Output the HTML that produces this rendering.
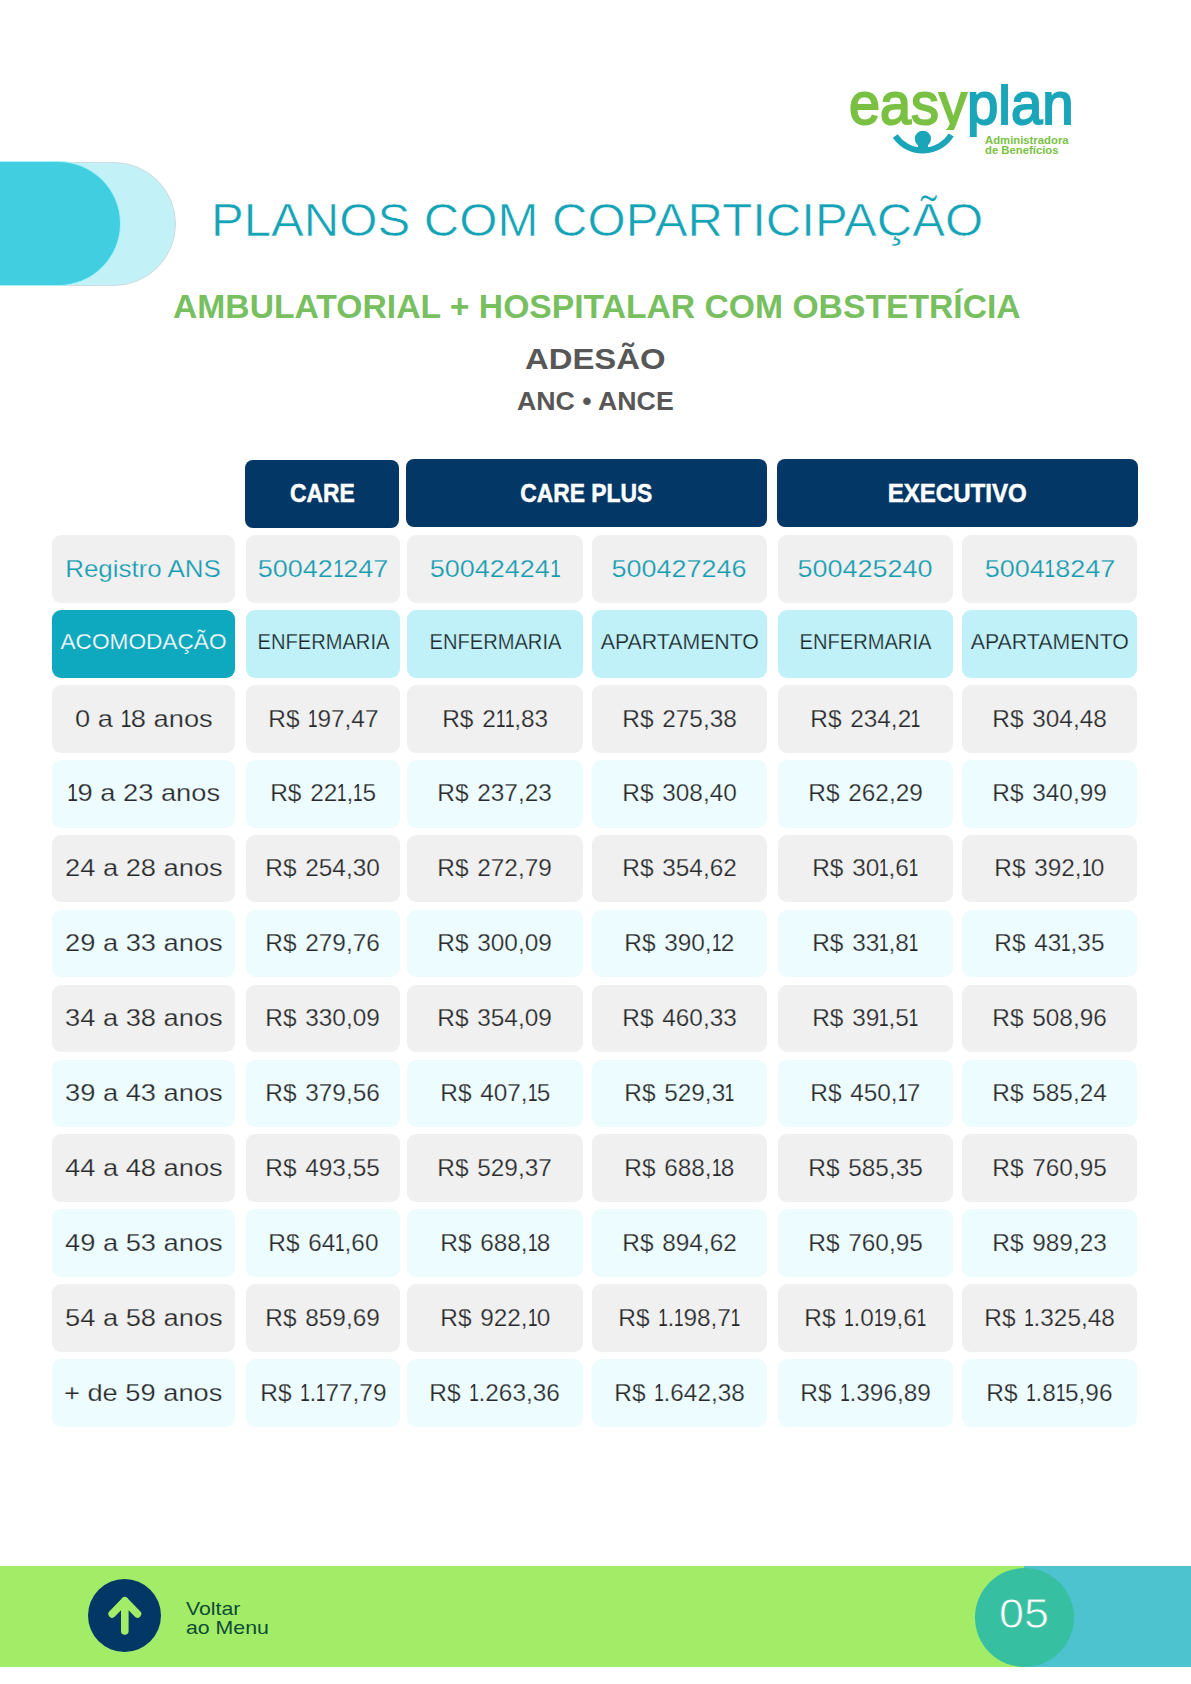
<!DOCTYPE html>
<html lang="pt-BR">
<head>
<meta charset="utf-8">
<title>Planos com Coparticipação</title>
<style>
html,body{margin:0;padding:0;}
body{width:1191px;height:1684px;position:relative;overflow:hidden;background:#ffffff;font-family:"Liberation Sans",Arial,sans-serif;}
.abs{position:absolute;}
.c{position:absolute;box-sizing:border-box;border-radius:9px;display:flex;align-items:center;justify-content:center;white-space:nowrap;}
.c span{display:inline-block;line-height:1;}
.hd{background:#033766;color:#ffffff;font-weight:bold;font-size:25px;border-radius:9px;-webkit-text-stroke:0.5px #ffffff;border-radius:8px;}
.g{background:#f0f0f0;}
.b{background:#edfcfe;}
.reg{color:#159cb0;font-size:24px;}
.reg span{-webkit-text-stroke:0.25px #f0f0f0;}
.aco{background:#0ea8bf;color:#ffffff;font-size:22.5px;}
.aco span{position:relative;top:-1.8px;-webkit-text-stroke:0.25px #0ea8bf;}
.enf{background:#c1f1f8;color:#1c272b;font-size:21.5px;}
.enf span{position:relative;top:-1px;-webkit-text-stroke:0.25px #c1f1f8;}
.dat{color:#27292b;font-size:24.5px;}
.pr span{word-spacing:2px;}
.g.dat span{-webkit-text-stroke:0.25px #f0f0f0;}
.b.dat span{-webkit-text-stroke:0.25px #edfcfe;}
.t{position:absolute;white-space:nowrap;line-height:1;}
.t span{display:inline-block;transform-origin:0 0;}
.c i{font-style:normal;display:inline-block;margin:0 -2.2px;transform:scaleX(0.7);-webkit-text-stroke:0;}
.reg i{margin:0 -2.1px;}
</style>
</head>
<body>
<!-- logo -->
<div class="t" id="easy" style="left:849px;top:74px;height:56px;overflow:hidden;font-size:60px;color:#7ac143;-webkit-text-stroke:2px #7ac143;"><span style="transform:scaleX(0.93)">easy</span></div>
<div class="t" id="plan" style="left:967px;top:74px;font-size:60px;color:#1aa5b8;-webkit-text-stroke:2px #1aa5b8;"><span style="transform:scaleX(0.94)">p<b style="display:inline-block;font-weight:normal;transform:scaleY(0.9);transform-origin:50% 50.8px">l</b>an</span></div>
<svg class="abs" style="left:880px;top:120px" width="90" height="45" viewBox="880 120 90 45">
  <path d="M895.25 136 A 33.5 33.5 0 0 0 951.2 135" fill="none" stroke="#1aa5b8" stroke-width="6" stroke-linecap="butt"/>
  <circle cx="922.9" cy="138.8" r="8.1" fill="#1aa5b8"/>
  <rect x="918" y="141" width="10" height="7" fill="#1aa5b8"/>
</svg>
<div class="t" style="left:985px;top:135.8px;font-size:10.2px;font-weight:bold;color:#7ac143;line-height:9.8px"><span style="transform:scaleX(1.11)">Administradora<br>de Benefícios</span></div>

<!-- left pills -->
<div class="abs" style="left:-70px;top:161.5px;width:246px;height:124px;box-sizing:border-box;border:1px solid #cbdcdf;border-radius:62px;background:#c2f1f7;"></div>
<div class="abs" style="left:-70px;top:162px;width:190px;height:123px;border-radius:62px;background:#40cee0;box-shadow:0 0 0 1px #a6f2f9;"></div>

<!-- titles -->
<div class="t" id="title" style="left:211px;top:197px;font-size:46.5px;color:#17a3b6;-webkit-text-stroke:0.6px #ffffff;"><span style="transform:scaleX(1.056)">PLANOS COM COPARTICIPAÇÃO</span></div>
<div class="t" id="sub" style="left:173px;top:291.4px;font-size:32.7px;font-weight:bold;color:#77bf5f;"><span style="transform:scaleX(1.03)">AMBULATORIAL + HOSPITALAR COM OBSTETRÍCIA</span></div>
<div class="t" id="ades" style="left:525px;top:343.6px;font-size:29.6px;font-weight:bold;color:#575757;"><span style="transform:scaleX(1.11)">ADESÃO</span></div>
<div class="t" id="anc" style="left:517px;top:388.7px;font-size:25.2px;font-weight:bold;color:#575757;"><span style="transform:scaleX(1.06)">ANC • ANCE</span></div>

<!-- table -->
<div class="c hd" style="left:245px;top:460.0px;width:154px;height:67.8px"><span style="transform:scaleX(0.916)">CARE</span></div>
<div class="c hd" style="left:406px;top:459.3px;width:361px;height:67.8px"><span style="transform:scaleX(0.914)">CARE PLUS</span></div>
<div class="c hd" style="left:777px;top:459.3px;width:361px;height:67.8px"><span style="transform:scaleX(0.963)">EXECUTIVO</span></div>
<div class="c g reg" style="left:52px;top:535.0px;width:183px;height:67.5px"><span style="transform:scaleX(1.080)">Registro ANS</span></div>
<div class="c g reg" style="left:246px;top:535.0px;width:154px;height:67.5px"><span style="transform:scaleX(1.125)">50042<i>1</i>247</span></div>
<div class="c g reg" style="left:407px;top:535.0px;width:176px;height:67.5px"><span style="transform:scaleX(1.125)">50042424<i>1</i></span></div>
<div class="c g reg" style="left:592px;top:535.0px;width:175px;height:67.5px"><span style="transform:scaleX(1.125)">500427246</span></div>
<div class="c g reg" style="left:778px;top:535.0px;width:175px;height:67.5px"><span style="transform:scaleX(1.125)">500425240</span></div>
<div class="c g reg" style="left:962px;top:535.0px;width:175px;height:67.5px"><span style="transform:scaleX(1.125)">5004<i>1</i>8247</span></div>
<div class="c aco" style="left:52px;top:610.0px;width:183px;height:67.8px"><span style="transform:scaleX(1.006)">ACOMODAÇÃO</span></div>
<div class="c enf" style="left:246px;top:610.0px;width:154px;height:67.8px"><span style="transform:scaleX(0.935)">ENFERMARIA</span></div>
<div class="c enf" style="left:407px;top:610.0px;width:176px;height:67.8px"><span style="transform:scaleX(0.935)">ENFERMARIA</span></div>
<div class="c enf" style="left:592px;top:610.0px;width:175px;height:67.8px"><span style="transform:scaleX(0.990)">APARTAMENTO</span></div>
<div class="c enf" style="left:778px;top:610.0px;width:175px;height:67.8px"><span style="transform:scaleX(0.935)">ENFERMARIA</span></div>
<div class="c enf" style="left:962px;top:610.0px;width:175px;height:67.8px"><span style="transform:scaleX(0.990)">APARTAMENTO</span></div>
<div class="c g dat" style="left:52px;top:685.0px;width:183px;height:67.7px"><span style="transform:scaleX(1.113)">0 a <i>1</i>8 anos</span></div>
<div class="c g dat pr" style="left:246px;top:685.0px;width:154px;height:67.7px"><span style="transform:scaleX(0.995)">R$ <i>1</i>97,47</span></div>
<div class="c g dat pr" style="left:407px;top:685.0px;width:176px;height:67.7px"><span style="transform:scaleX(0.995)">R$ 2<i>1</i><i>1</i>,83</span></div>
<div class="c g dat pr" style="left:592px;top:685.0px;width:175px;height:67.7px"><span style="transform:scaleX(0.995)">R$ 275,38</span></div>
<div class="c g dat pr" style="left:778px;top:685.0px;width:175px;height:67.7px"><span style="transform:scaleX(0.995)">R$ 234,2<i>1</i></span></div>
<div class="c g dat pr" style="left:962px;top:685.0px;width:175px;height:67.7px"><span style="transform:scaleX(0.995)">R$ 304,48</span></div>
<div class="c b dat" style="left:52px;top:759.9px;width:183px;height:67.7px"><span style="transform:scaleX(1.113)"><i>1</i>9 a 23 anos</span></div>
<div class="c b dat pr" style="left:246px;top:759.9px;width:154px;height:67.7px"><span style="transform:scaleX(0.995)">R$ 22<i>1</i>,<i>1</i>5</span></div>
<div class="c b dat pr" style="left:407px;top:759.9px;width:176px;height:67.7px"><span style="transform:scaleX(0.995)">R$ 237,23</span></div>
<div class="c b dat pr" style="left:592px;top:759.9px;width:175px;height:67.7px"><span style="transform:scaleX(0.995)">R$ 308,40</span></div>
<div class="c b dat pr" style="left:778px;top:759.9px;width:175px;height:67.7px"><span style="transform:scaleX(0.995)">R$ 262,29</span></div>
<div class="c b dat pr" style="left:962px;top:759.9px;width:175px;height:67.7px"><span style="transform:scaleX(0.995)">R$ 340,99</span></div>
<div class="c g dat" style="left:52px;top:834.8px;width:183px;height:67.7px"><span style="transform:scaleX(1.113)">24 a 28 anos</span></div>
<div class="c g dat pr" style="left:246px;top:834.8px;width:154px;height:67.7px"><span style="transform:scaleX(0.995)">R$ 254,30</span></div>
<div class="c g dat pr" style="left:407px;top:834.8px;width:176px;height:67.7px"><span style="transform:scaleX(0.995)">R$ 272,79</span></div>
<div class="c g dat pr" style="left:592px;top:834.8px;width:175px;height:67.7px"><span style="transform:scaleX(0.995)">R$ 354,62</span></div>
<div class="c g dat pr" style="left:778px;top:834.8px;width:175px;height:67.7px"><span style="transform:scaleX(0.995)">R$ 30<i>1</i>,6<i>1</i></span></div>
<div class="c g dat pr" style="left:962px;top:834.8px;width:175px;height:67.7px"><span style="transform:scaleX(0.995)">R$ 392,<i>1</i>0</span></div>
<div class="c b dat" style="left:52px;top:909.7px;width:183px;height:67.7px"><span style="transform:scaleX(1.113)">29 a 33 anos</span></div>
<div class="c b dat pr" style="left:246px;top:909.7px;width:154px;height:67.7px"><span style="transform:scaleX(0.995)">R$ 279,76</span></div>
<div class="c b dat pr" style="left:407px;top:909.7px;width:176px;height:67.7px"><span style="transform:scaleX(0.995)">R$ 300,09</span></div>
<div class="c b dat pr" style="left:592px;top:909.7px;width:175px;height:67.7px"><span style="transform:scaleX(0.995)">R$ 390,<i>1</i>2</span></div>
<div class="c b dat pr" style="left:778px;top:909.7px;width:175px;height:67.7px"><span style="transform:scaleX(0.995)">R$ 33<i>1</i>,8<i>1</i></span></div>
<div class="c b dat pr" style="left:962px;top:909.7px;width:175px;height:67.7px"><span style="transform:scaleX(0.995)">R$ 43<i>1</i>,35</span></div>
<div class="c g dat" style="left:52px;top:984.6px;width:183px;height:67.7px"><span style="transform:scaleX(1.113)">34 a 38 anos</span></div>
<div class="c g dat pr" style="left:246px;top:984.6px;width:154px;height:67.7px"><span style="transform:scaleX(0.995)">R$ 330,09</span></div>
<div class="c g dat pr" style="left:407px;top:984.6px;width:176px;height:67.7px"><span style="transform:scaleX(0.995)">R$ 354,09</span></div>
<div class="c g dat pr" style="left:592px;top:984.6px;width:175px;height:67.7px"><span style="transform:scaleX(0.995)">R$ 460,33</span></div>
<div class="c g dat pr" style="left:778px;top:984.6px;width:175px;height:67.7px"><span style="transform:scaleX(0.995)">R$ 39<i>1</i>,5<i>1</i></span></div>
<div class="c g dat pr" style="left:962px;top:984.6px;width:175px;height:67.7px"><span style="transform:scaleX(0.995)">R$ 508,96</span></div>
<div class="c b dat" style="left:52px;top:1059.5px;width:183px;height:67.7px"><span style="transform:scaleX(1.113)">39 a 43 anos</span></div>
<div class="c b dat pr" style="left:246px;top:1059.5px;width:154px;height:67.7px"><span style="transform:scaleX(0.995)">R$ 379,56</span></div>
<div class="c b dat pr" style="left:407px;top:1059.5px;width:176px;height:67.7px"><span style="transform:scaleX(0.995)">R$ 407,<i>1</i>5</span></div>
<div class="c b dat pr" style="left:592px;top:1059.5px;width:175px;height:67.7px"><span style="transform:scaleX(0.995)">R$ 529,3<i>1</i></span></div>
<div class="c b dat pr" style="left:778px;top:1059.5px;width:175px;height:67.7px"><span style="transform:scaleX(0.995)">R$ 450,<i>1</i>7</span></div>
<div class="c b dat pr" style="left:962px;top:1059.5px;width:175px;height:67.7px"><span style="transform:scaleX(0.995)">R$ 585,24</span></div>
<div class="c g dat" style="left:52px;top:1134.4px;width:183px;height:67.7px"><span style="transform:scaleX(1.113)">44 a 48 anos</span></div>
<div class="c g dat pr" style="left:246px;top:1134.4px;width:154px;height:67.7px"><span style="transform:scaleX(0.995)">R$ 493,55</span></div>
<div class="c g dat pr" style="left:407px;top:1134.4px;width:176px;height:67.7px"><span style="transform:scaleX(0.995)">R$ 529,37</span></div>
<div class="c g dat pr" style="left:592px;top:1134.4px;width:175px;height:67.7px"><span style="transform:scaleX(0.995)">R$ 688,<i>1</i>8</span></div>
<div class="c g dat pr" style="left:778px;top:1134.4px;width:175px;height:67.7px"><span style="transform:scaleX(0.995)">R$ 585,35</span></div>
<div class="c g dat pr" style="left:962px;top:1134.4px;width:175px;height:67.7px"><span style="transform:scaleX(0.995)">R$ 760,95</span></div>
<div class="c b dat" style="left:52px;top:1209.3px;width:183px;height:67.7px"><span style="transform:scaleX(1.113)">49 a 53 anos</span></div>
<div class="c b dat pr" style="left:246px;top:1209.3px;width:154px;height:67.7px"><span style="transform:scaleX(0.995)">R$ 64<i>1</i>,60</span></div>
<div class="c b dat pr" style="left:407px;top:1209.3px;width:176px;height:67.7px"><span style="transform:scaleX(0.995)">R$ 688,<i>1</i>8</span></div>
<div class="c b dat pr" style="left:592px;top:1209.3px;width:175px;height:67.7px"><span style="transform:scaleX(0.995)">R$ 894,62</span></div>
<div class="c b dat pr" style="left:778px;top:1209.3px;width:175px;height:67.7px"><span style="transform:scaleX(0.995)">R$ 760,95</span></div>
<div class="c b dat pr" style="left:962px;top:1209.3px;width:175px;height:67.7px"><span style="transform:scaleX(0.995)">R$ 989,23</span></div>
<div class="c g dat" style="left:52px;top:1284.2px;width:183px;height:67.7px"><span style="transform:scaleX(1.113)">54 a 58 anos</span></div>
<div class="c g dat pr" style="left:246px;top:1284.2px;width:154px;height:67.7px"><span style="transform:scaleX(0.995)">R$ 859,69</span></div>
<div class="c g dat pr" style="left:407px;top:1284.2px;width:176px;height:67.7px"><span style="transform:scaleX(0.995)">R$ 922,<i>1</i>0</span></div>
<div class="c g dat pr" style="left:592px;top:1284.2px;width:175px;height:67.7px"><span style="transform:scaleX(0.995)">R$ <i>1</i>.<i>1</i>98,7<i>1</i></span></div>
<div class="c g dat pr" style="left:778px;top:1284.2px;width:175px;height:67.7px"><span style="transform:scaleX(0.995)">R$ <i>1</i>.0<i>1</i>9,6<i>1</i></span></div>
<div class="c g dat pr" style="left:962px;top:1284.2px;width:175px;height:67.7px"><span style="transform:scaleX(0.995)">R$ <i>1</i>.325,48</span></div>
<div class="c b dat" style="left:52px;top:1359.1px;width:183px;height:67.7px"><span style="transform:scaleX(1.113)">+ de 59 anos</span></div>
<div class="c b dat pr" style="left:246px;top:1359.1px;width:154px;height:67.7px"><span style="transform:scaleX(0.995)">R$ <i>1</i>.<i>1</i>77,79</span></div>
<div class="c b dat pr" style="left:407px;top:1359.1px;width:176px;height:67.7px"><span style="transform:scaleX(0.995)">R$ <i>1</i>.263,36</span></div>
<div class="c b dat pr" style="left:592px;top:1359.1px;width:175px;height:67.7px"><span style="transform:scaleX(0.995)">R$ <i>1</i>.642,38</span></div>
<div class="c b dat pr" style="left:778px;top:1359.1px;width:175px;height:67.7px"><span style="transform:scaleX(0.995)">R$ <i>1</i>.396,89</span></div>
<div class="c b dat pr" style="left:962px;top:1359.1px;width:175px;height:67.7px"><span style="transform:scaleX(0.995)">R$ <i>1</i>.8<i>1</i>5,96</span></div>


<!-- footer -->
<div class="abs" style="left:0;top:1566px;width:1191px;height:101px;background:#a2ec68;"></div>
<div class="abs" style="left:1024px;top:1566px;width:167px;height:101px;background:#4ec3d0;"></div>
<div class="abs" style="left:975.2px;top:1567.5px;width:99px;height:99px;border-radius:50%;background:#36bfa1;"></div>
<div class="t" id="pg" style="left:999.3px;top:1592.8px;font-size:41.6px;color:#ffffff;-webkit-text-stroke:0.8px #36bfa1;"><span style="transform:scaleX(1.08)">05</span></div>
<div class="abs" style="left:87.7px;top:1578.7px;width:73.5px;height:73.5px;border-radius:50%;background:#033766;"></div>
<svg class="abs" style="left:87px;top:1578px" width="75" height="75" viewBox="0 0 75 75">
  <path d="M37.8 52.9 V22.9 M25.2 35.9 L37.8 22.9 L50.4 35.9" fill="none" stroke="#a2ec68" stroke-width="7.6" stroke-linecap="round" stroke-linejoin="round"/>
</svg>
<div class="t" id="volt" style="left:186px;top:1599.8px;font-size:18.2px;color:#0e4d33;line-height:19.5px;"><span style="transform:scaleX(1.17)">Voltar<br>ao Menu</span></div>
</body>
</html>
